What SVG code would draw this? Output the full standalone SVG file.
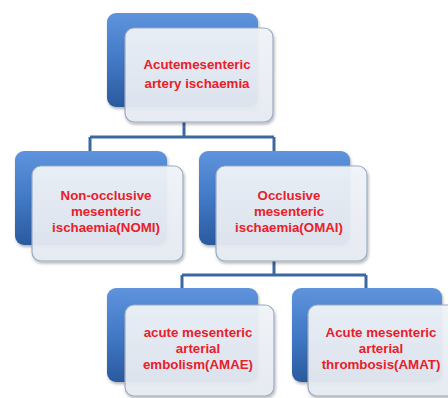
<svg xmlns="http://www.w3.org/2000/svg" width="448" height="398" viewBox="0 0 448 398">
<defs>
<linearGradient id="blue" x1="0" y1="0" x2="0" y2="1">
<stop offset="0" stop-color="#5f93dc"/>
<stop offset="0.5" stop-color="#4279c6"/>
<stop offset="1" stop-color="#2a5a9e"/>
</linearGradient>
<linearGradient id="card" x1="0" y1="0" x2="0" y2="1">
<stop offset="0" stop-color="#f2f5f9"/>
<stop offset="1" stop-color="#e6ebf2"/>
</linearGradient>
<filter id="sh" x="-10%" y="-10%" width="130%" height="130%">
<feDropShadow dx="1" dy="2" stdDeviation="1.5" flood-color="#000" flood-opacity="0.3"/>
</filter>
</defs>
<style>
.bl{fill:url(#blue);filter:url(#sh);}
.cd{fill:url(#card);fill-opacity:0.93;stroke:#9aabc4;stroke-width:1.2;filter:url(#sh);}
.t{font-family:"Liberation Sans",Arial,sans-serif;font-weight:bold;font-size:13.3px;fill:#e8202a;text-anchor:middle;}
.c{fill:none;stroke:#3c68a2;stroke-width:3;}
</style>
<rect width="448" height="398" fill="#ffffff"/>
<g id="connectors">
<path class="c" d="M184 122 V137 M90 137 H274 M90 137 V151 M274 137 V151"/>
<path class="c" d="M274 261 V275 M182 275 H366 M182 275 V288 M366 275 V288"/>
</g>
<g id="n0">
<rect class="bl" x="107" y="13" width="151" height="94" rx="9"/>
<rect class="cd" x="125" y="28" width="148" height="94" rx="9"/>
<text class="t" x="197" y="69">Acutemesenteric</text>
<text class="t" x="197" y="88">artery ischaemia</text>
</g>
<g id="n1">
<rect class="bl" x="15" y="151" width="152" height="94" rx="9"/>
<rect class="cd" x="32" y="166" width="151" height="95" rx="9"/>
<text class="t" x="106" y="200">Non-occlusive</text>
<text class="t" x="106" y="216">mesenteric</text>
<text class="t" x="106" y="232">ischaemia(NOMI)</text>
</g>
<g id="n2">
<rect class="bl" x="199" y="151" width="151" height="94" rx="9"/>
<rect class="cd" x="216" y="166" width="151" height="95" rx="9"/>
<text class="t" x="289" y="200">Occlusive</text>
<text class="t" x="289" y="216">mesenteric</text>
<text class="t" x="289" y="232">ischaemia(OMAI)</text>
</g>
<g id="n3">
<rect class="bl" x="107" y="288" width="151" height="94" rx="9"/>
<rect class="cd" x="125" y="305" width="149" height="91" rx="9"/>
<text class="t" x="198" y="337">acute mesenteric</text>
<text class="t" x="198" y="353">arterial</text>
<text class="t" x="198" y="369">embolism(AMAE)</text>
</g>
<g id="n4">
<rect class="bl" x="292" y="288" width="150" height="94" rx="9"/>
<rect class="cd" x="308" y="305" width="149" height="91" rx="9"/>
<text class="t" x="381" y="337">Acute mesenteric</text>
<text class="t" x="381" y="353">arterial</text>
<text class="t" x="381" y="369">thrombosis(AMAT)</text>
</g>
</svg>
